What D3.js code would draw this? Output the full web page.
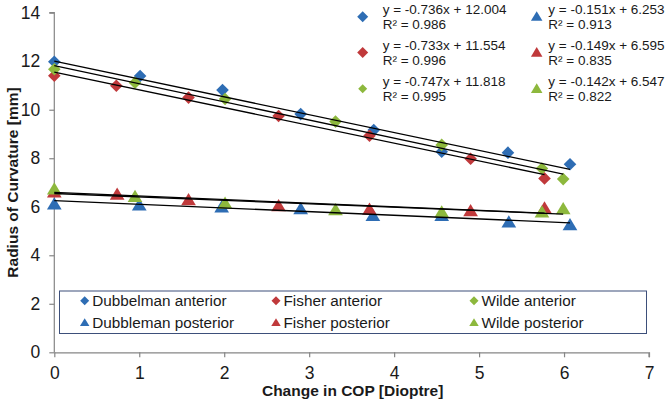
<!DOCTYPE html>
<html><head><meta charset="utf-8">
<script src="https://cdn.jsdelivr.net/npm/d3@7"></script>
<style>
body{margin:0;background:#fff;}
svg{display:block;font-family:"Liberation Sans",Arial,sans-serif;}
</style></head>
<body><svg id="c" width="666" height="402"></svg>
<script>
const seriesNames = ["Dubbelman anterior","Fisher anterior","Wilde anterior","Dubbleman posterior","Fisher posterior","Wilde posterior"];
const seriesColors = ["#2E6DB4","#C0393B","#8DB83D","#2E6DB4","#C0393B","#8DB83D"];
const seriesShapes = ["diamond","diamond","diamond","triangle","triangle","triangle"];
const dubAntX = [0, 1.01, 1.98, 2.90, 3.76, 4.56, 5.34, 6.07];
const dubAntY = [11.98, 11.39, 10.81, 9.82, 9.16, 8.27, 8.23, 7.75];
const fisAntX = [0, 0.73, 1.58, 2.64, 3.71, 4.90, 5.77];
const fisAntY = [11.40, 10.99, 10.50, 9.74, 8.93, 7.98, 7.17];
const wilAntX = [0, 0.95, 2.01, 3.31, 4.56, 5.74, 5.99];
const wilAntY = [11.67, 11.11, 10.44, 9.51, 8.55, 7.58, 7.14];
const dubPostX = [0, 1.00, 1.97, 2.90, 3.75, 4.56, 5.35, 6.07];
const dubPostY = [6.10, 6.06, 5.98, 5.91, 5.63, 5.63, 5.36, 5.25];
const fisPostX = [0, 0.74, 1.58, 2.64, 3.71, 4.90, 5.77];
const fisPostY = [6.60, 6.51, 6.28, 6.03, 5.89, 5.82, 5.94];
const wilPostX = [0, 0.95, 2.01, 3.31, 4.56, 5.74, 5.99];
const wilPostY = [6.72, 6.41, 6.13, 5.87, 5.77, 5.77, 5.91];
const slopes = [-0.736, -0.733, -0.747, -0.151, -0.149, -0.142];
const intercepts = [12.004, 11.554, 11.818, 6.253, 6.595, 6.547];
const eqLabels = ["y = -0.736x + 12.004","y = -0.733x + 11.554","y = -0.747x + 11.818","y = -0.151x + 6.253","y = -0.149x + 6.595","y = -0.142x + 6.547"];
const r2Labels = ["R² = 0.986","R² = 0.996","R² = 0.995","R² = 0.913","R² = 0.835","R² = 0.822"];
const xTicks = [0,1,2,3,4,5,6,7];
const yTicks = [0,2,4,6,8,10,12,14];

const xs = [dubAntX, fisAntX, wilAntX, dubPostX, fisPostX, wilPostX];
const ys = [dubAntY, fisAntY, wilAntY, dubPostY, fisPostY, wilPostY];

const svg = d3.select("#c");
const x = d3.scaleLinear().domain([0,7]).range([54.3,649]);
const y = d3.scaleLinear().domain([0,14]).range([352.3,12.7]);

// axes
const xAxis = svg.append("g").attr("transform",`translate(0,${y(0)})`)
  .call(d3.axisBottom(x).tickValues(xTicks).tickSize(5).tickPadding(9).tickFormat(d3.format("d")));
const yAxis = svg.append("g").attr("transform",`translate(${x(0)},0)`)
  .call(d3.axisLeft(y).tickValues(yTicks).tickSize(5).tickPadding(9).tickFormat(d3.format("d")));
[xAxis,yAxis].forEach(a=>{
  a.selectAll("path,line").attr("stroke","#868686").attr("stroke-width",1.2);
  a.selectAll("text").attr("fill","#1a1a1a").style("font-size","17.5px").style("font-family","'Liberation Sans',Arial,sans-serif");
});
xAxis.select(".domain").attr("d",`M${x(0)},0.5H${x(7)}V5`);
yAxis.select(".domain").attr("d",`M-5,${y(14)}H0V${y(0)}`);

svg.append("text").attr("x",(x(0)+x(7))/2+1).attr("y",395.5).attr("text-anchor","middle")
  .style("font-size","15.5px").style("font-weight","bold").attr("fill","#1a1a1a").text("Change in COP [Dioptre]");
svg.append("text").attr("transform",`translate(17.5,${(y(0)+y(14))/2}) rotate(-90)`).attr("text-anchor","middle")
  .style("font-size","15.5px").style("font-weight","bold").attr("fill","#1a1a1a").text("Radius of Curvature [mm]");

function shapePath(shape, s){
  if(shape==="diamond") return `M0,${-s}L${s},0L0,${s}L${-s},0Z`;
  const h = s*1.0;
  return `M0,${-h}L${s*1.05},${h*0.75}L${-s*1.05},${h*0.75}Z`;
}

// markers
const order = [3,4,5,0,1,2];
order.forEach(i=>{
  const pts = xs[i].map((v,k)=>[v, ys[i][k]]);
  svg.append("g").selectAll("path").data(pts).join("path")
    .attr("transform",d=>`translate(${x(d[0])},${y(d[1])})`)
    .attr("d", shapePath(seriesShapes[i], seriesShapes[i]==="diamond"?6.3:7))
    .attr("fill", seriesColors[i]);
});

// trendlines
xs.forEach((xv,i)=>{
  const x1 = d3.max(xv);
  svg.append("line").attr("x1",x(0)).attr("y1",y(intercepts[i]))
    .attr("x2",x(x1)).attr("y2",y(intercepts[i]+slopes[i]*x1))
    .attr("stroke","#000").attr("stroke-width",1.3);
});

// equation labels
const eqPos = [[362.7,16.7,20],[362.7,52.5,20],[362.7,88.8,20],[536.7,16.7,11.6],[536.7,52.5,11.6],[536.7,88.8,11.6]];
eqLabels.forEach((t,i)=>{
  const [mx,my,off] = eqPos[i];
  svg.append("path").attr("transform",`translate(${mx},${my})`)
    .attr("d", shapePath(seriesShapes[i], i===2?4.5:5.5)).attr("fill",seriesColors[i]);
  svg.append("text").attr("x",mx+off).attr("y",my-2.6).style("font-size","13.5px").attr("fill","#1a1a1a").text(t);
  svg.append("text").attr("x",mx+off).attr("y",my+12).style("font-size","13.5px").attr("fill","#1a1a1a").text(r2Labels[i]);
});

// legend
svg.append("rect").attr("x",59.5).attr("y",291).attr("width",587).attr("height",42.5)
  .attr("fill","#fff").attr("stroke","#3d4f7a").attr("stroke-width",1);
const legCols = [84.7, 276, 474];
seriesNames.forEach((n,i)=>{
  const cx = legCols[i%3], cy = i<3?300.7:322.7;
  svg.append("path").attr("transform",`translate(${cx},${cy})`)
    .attr("d", shapePath(seriesShapes[i], 4.5)).attr("fill",seriesColors[i]);
  svg.append("text").attr("x",cx+7.5).attr("y",cy+5.3).style("font-size","15.3px").attr("fill","#1a1a1a").text(n);
});
</script></body></html>
